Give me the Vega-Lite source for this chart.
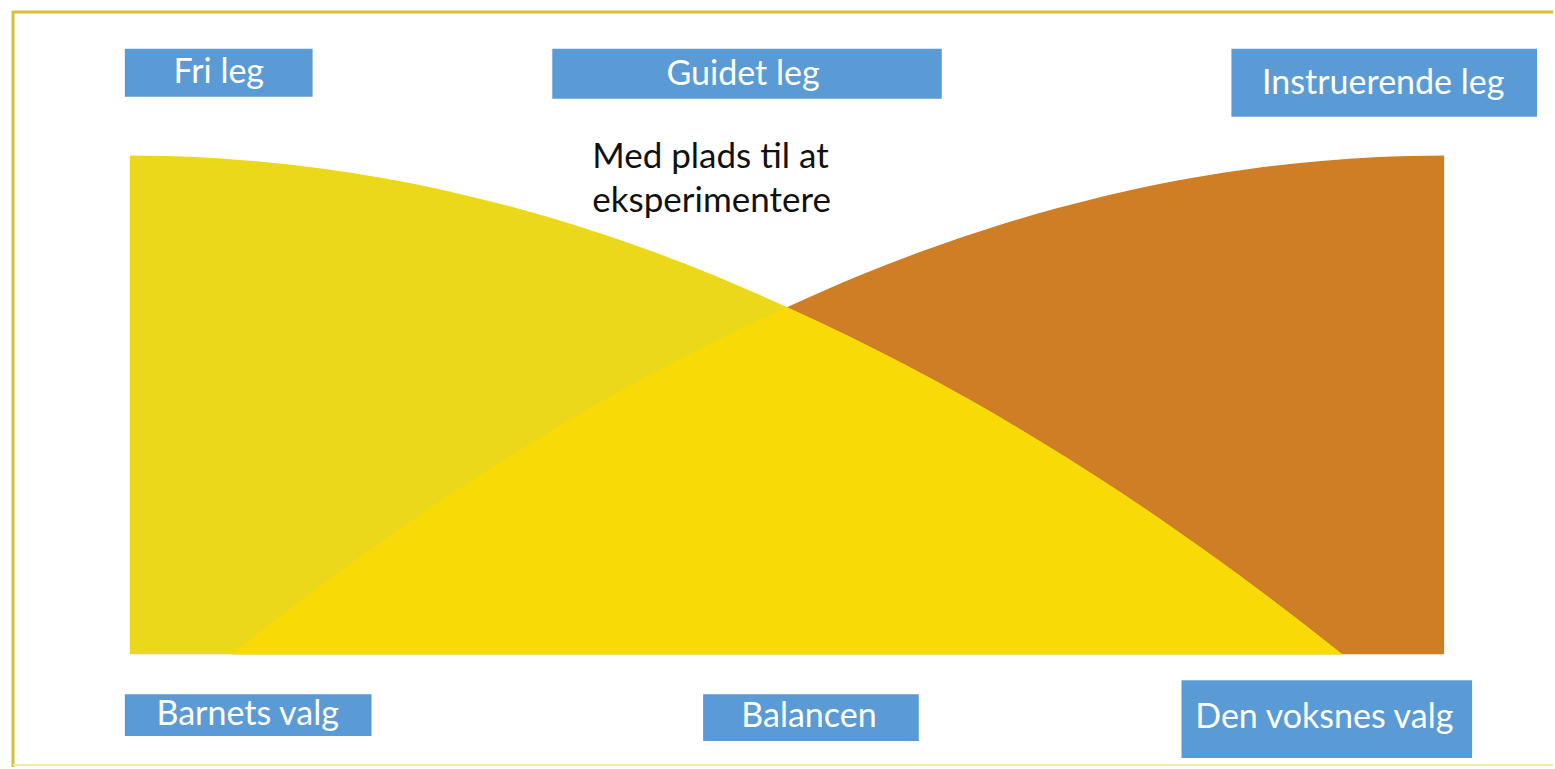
{
  "$schema": "https://vega.github.io/schema/vega-lite/v6.json",
  "width": 1555,
  "height": 769,
  "autosize": {"type": "fit", "contains": "padding"},
  "padding": 0,
  "background": "white",
  "config": {"view": {"stroke": null}},
  "datasets": {
    "yellow": [
      {"x": 130, "y": 156}, {"x": 200, "y": 157.7}, {"x": 250, "y": 161.1}, {"x": 320, "y": 168.7},
      {"x": 383, "y": 178.5}, {"x": 450, "y": 191.9}, {"x": 517, "y": 208.6}, {"x": 576, "y": 225.8},
      {"x": 650, "y": 250.9}, {"x": 713, "y": 275.3}, {"x": 788, "y": 308}, {"x": 850, "y": 337.1},
      {"x": 904, "y": 364.5}, {"x": 970, "y": 400.4}, {"x": 1038, "y": 440.3}, {"x": 1100, "y": 479.2},
      {"x": 1172, "y": 527.5}, {"x": 1222, "y": 562.9}, {"x": 1261, "y": 591.7}, {"x": 1300, "y": 621.3},
      {"x": 1344, "y": 656}
    ],
    "orange": [
      {"x": 232, "y": 656}, {"x": 276, "y": 621.3}, {"x": 315, "y": 591.7}, {"x": 354, "y": 562.9},
      {"x": 404, "y": 527.5}, {"x": 476, "y": 479.2}, {"x": 538, "y": 440.3}, {"x": 606, "y": 400.4},
      {"x": 672, "y": 364.5}, {"x": 726, "y": 337.1}, {"x": 788, "y": 308}, {"x": 863, "y": 275.3},
      {"x": 926, "y": 250.9}, {"x": 1000, "y": 225.8}, {"x": 1059, "y": 208.6}, {"x": 1126, "y": 191.9},
      {"x": 1193, "y": 178.5}, {"x": 1256, "y": 168.7}, {"x": 1326, "y": 161.1}, {"x": 1376, "y": 157.7},
      {"x": 1446, "y": 156}
    ],
    "overlap": [
      {"piece": "a", "x": 232, "y": 656}, {"piece": "a", "x": 276, "y": 621.3}, {"piece": "a", "x": 315, "y": 591.7},
      {"piece": "a", "x": 354, "y": 562.9}, {"piece": "a", "x": 404, "y": 527.5}, {"piece": "a", "x": 476, "y": 479.2},
      {"piece": "a", "x": 538, "y": 440.3}, {"piece": "a", "x": 606, "y": 400.4}, {"piece": "a", "x": 672, "y": 364.5},
      {"piece": "a", "x": 726, "y": 337.1}, {"piece": "a", "x": 788, "y": 308},
      {"piece": "b", "x": 788, "y": 308}, {"piece": "b", "x": 850, "y": 337.1}, {"piece": "b", "x": 904, "y": 364.5},
      {"piece": "b", "x": 970, "y": 400.4}, {"piece": "b", "x": 1038, "y": 440.3}, {"piece": "b", "x": 1100, "y": 479.2},
      {"piece": "b", "x": 1172, "y": 527.5}, {"piece": "b", "x": 1222, "y": 562.9}, {"piece": "b", "x": 1261, "y": 591.7},
      {"piece": "b", "x": 1300, "y": 621.3}, {"piece": "b", "x": 1344, "y": 656}
    ],
    "boxes": [
      {"label": "Fri leg", "x0": 125, "x1": 313, "y0": 49, "y1": 97, "cx": 219, "cy": 73},
      {"label": "Guidet leg", "x0": 553, "x1": 943, "y0": 49, "y1": 99, "cx": 744, "cy": 75},
      {"label": "Instruerende leg", "x0": 1233, "x1": 1539, "y0": 49, "y1": 117, "cx": 1385, "cy": 84},
      {"label": "Barnets valg", "x0": 125, "x1": 372, "y0": 696, "y1": 738, "cx": 248, "cy": 717},
      {"label": "Balancen", "x0": 704, "x1": 920, "y0": 696, "y1": 743, "cx": 810, "cy": 719},
      {"label": "Den voksnes valg", "x0": 1183, "x1": 1474, "y0": 682, "y1": 760, "cx": 1326, "cy": 720}
    ],
    "note": [
      {"text": "Med plads til at\neksperimentere", "x": 593, "y": 168}
    ],
    "frame": [
      {"x0": 12, "x1": 1555, "y0": 12, "y1": 12},
      {"x0": 13, "x1": 13, "y0": 11, "y1": 769}
    ],
    "frameBottom": [
      {"x0": 13, "x1": 1555, "y0": 767, "y1": 767}
    ]
  },
  "layer": [
    {
      "data": {"name": "frame"},
      "mark": {"type": "rule", "color": "#D9C038", "strokeWidth": 3},
      "encoding": {
        "x": {"field": "x0", "type": "quantitative", "scale": {"domain": [0, 1555], "nice": false, "zero": false}, "axis": null},
        "x2": {"field": "x1"},
        "y": {"field": "y0", "type": "quantitative", "scale": {"domain": [0, 769], "reverse": true, "nice": false, "zero": false}, "axis": null},
        "y2": {"field": "y1"}
      }
    },
    {
      "data": {"name": "frameBottom"},
      "mark": {"type": "rule", "color": "#F2E8AE", "strokeWidth": 2},
      "encoding": {
        "x": {"field": "x0", "type": "quantitative", "scale": {"domain": [0, 1555], "nice": false, "zero": false}, "axis": null},
        "x2": {"field": "x1"},
        "y": {"field": "y0", "type": "quantitative", "scale": {"domain": [0, 769], "reverse": true, "nice": false, "zero": false}, "axis": null},
        "y2": {"field": "y1"}
      }
    },
    {
      "data": {"name": "orange"},
      "mark": {"type": "area", "color": "#D07E26", "opacity": 1, "interpolate": "monotone"},
      "encoding": {
        "x": {"field": "x", "type": "quantitative", "scale": {"domain": [0, 1555], "nice": false, "zero": false}, "axis": null},
        "y": {"field": "y", "type": "quantitative", "scale": {"domain": [0, 769], "reverse": true, "nice": false, "zero": false}, "axis": null},
        "y2": {"datum": 656}
      }
    },
    {
      "data": {"name": "yellow"},
      "mark": {"type": "area", "color": "#ECD81B", "opacity": 1, "interpolate": "monotone"},
      "encoding": {
        "x": {"field": "x", "type": "quantitative", "scale": {"domain": [0, 1555], "nice": false, "zero": false}, "axis": null},
        "y": {"field": "y", "type": "quantitative", "scale": {"domain": [0, 769], "reverse": true, "nice": false, "zero": false}, "axis": null},
        "y2": {"datum": 656}
      }
    },
    {
      "data": {"name": "overlap"},
      "mark": {"type": "area", "color": "#F8DA07", "opacity": 1, "interpolate": "monotone"},
      "encoding": {
        "x": {"field": "x", "type": "quantitative", "scale": {"domain": [0, 1555], "nice": false, "zero": false}, "axis": null},
        "y": {"field": "y", "type": "quantitative", "scale": {"domain": [0, 769], "reverse": true, "nice": false, "zero": false}, "axis": null},
        "y2": {"datum": 656},
        "detail": {"field": "piece", "type": "nominal"}
      }
    },
    {
      "data": {"name": "boxes"},
      "mark": {"type": "rect", "color": "#5B9BD5", "opacity": 1},
      "encoding": {
        "x": {"field": "x0", "type": "quantitative", "scale": {"domain": [0, 1555], "nice": false, "zero": false}, "axis": null},
        "x2": {"field": "x1"},
        "y": {"field": "y0", "type": "quantitative", "scale": {"domain": [0, 769], "reverse": true, "nice": false, "zero": false}, "axis": null},
        "y2": {"field": "y1"}
      }
    },
    {
      "data": {"name": "boxes"},
      "mark": {"type": "text", "color": "white", "font": "Lato", "fontSize": 34, "align": "center", "baseline": "middle"},
      "encoding": {
        "x": {"field": "cx", "type": "quantitative", "scale": {"domain": [0, 1555], "nice": false, "zero": false}, "axis": null},
        "y": {"field": "cy", "type": "quantitative", "scale": {"domain": [0, 769], "reverse": true, "nice": false, "zero": false}, "axis": null},
        "text": {"field": "label", "type": "nominal"}
      }
    },
    {
      "data": {"name": "note"},
      "mark": {"type": "text", "color": "#111111", "font": "Lato", "fontSize": 35, "align": "left", "baseline": "alphabetic", "lineBreak": "\n", "lineHeight": 44},
      "encoding": {
        "x": {"field": "x", "type": "quantitative", "scale": {"domain": [0, 1555], "nice": false, "zero": false}, "axis": null},
        "y": {"field": "y", "type": "quantitative", "scale": {"domain": [0, 769], "reverse": true, "nice": false, "zero": false}, "axis": null},
        "text": {"field": "text", "type": "nominal"}
      }
    }
  ]
}
